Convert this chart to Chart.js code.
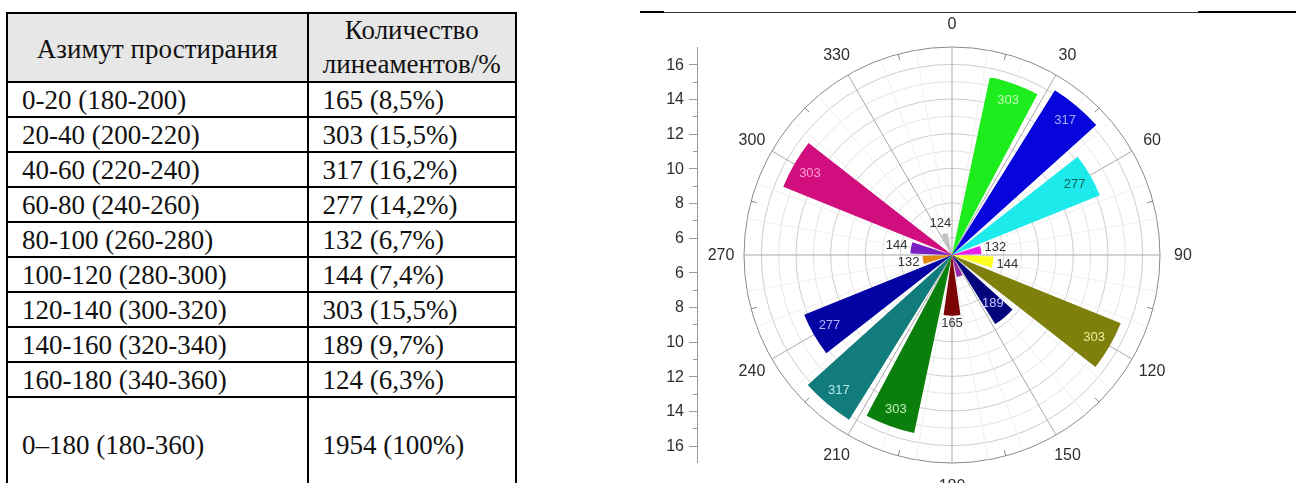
<!DOCTYPE html>
<html lang="ru">
<head>
<meta charset="utf-8">
<title>Азимут простирания линеаментов</title>
<script src="https://cdn.jsdelivr.net/npm/chart.js@4.4.1/dist/chart.umd.min.js"></script>
<style>
  html, body { margin: 0; padding: 0; background: #fff; }
  body { width: 1296px; height: 483px; position: relative; overflow: hidden; }
  #table { position: absolute; left: 0; top: 0; width: 540px; height: 483px;
           font-family: "Liberation Serif", "Times New Roman", serif; color: #111; }
  .cell { position: absolute; box-sizing: border-box; font-size: 27px; white-space: nowrap;
          display: flex; align-items: center; }
  .cell.center { justify-content: center; text-align: center; line-height: 34px; flex-direction: column; }
  .rule { position: absolute; background: #000; }
  .head-bg { position: absolute; background: #e7e7e7; }
  #rose { position: absolute; left: 560px; top: 0; width: 736px; height: 483px; }
  .topline { position: absolute; background: #000; }
</style>
</head>
<body>
<div id="table"></div>
<div id="rose"><canvas id="roseCanvas" width="736" height="483"></canvas></div>
<div class="topline" style="left:640px; top:11px; width:24px; height:2px;"></div>
<div class="topline" style="left:664px; top:12px; width:534px; height:1px; background:#333;"></div>
<div class="topline" style="left:1198px; top:11px; width:98px; height:2px;"></div>

<script>
// ---- data ----
const tableHeaders = ['Азимут простирания', ['Количество', 'линеаментов/%']];
const azimuthBins = ['0-20 (180-200)', '20-40 (200-220)', '40-60 (220-240)', '60-80 (240-260)',
                     '80-100 (260-280)', '100-120 (280-300)', '120-140 (300-320)',
                     '140-160 (320-340)', '160-180 (340-360)'];
const lineamentCounts = [165, 303, 317, 277, 132, 144, 303, 189, 124];
const lineamentShares = [8.5, 15.5, 16.2, 14.2, 6.7, 7.4, 15.5, 9.7, 6.3];
const totalBin = '0–180 (180-360)';
const totalCount = 1954;
const totalShare = 100;

// rose sectors: centre azimuth of every drawn petal (degrees from north, clockwise)
const roseAngles = [20, 40, 60, 80, 100, 120, 140, 160, 180, 200, 220, 240, 260, 280, 300, 340];
const roseColors = ['#1ded1d', '#0505dc', '#1deaea', '#ea1dea', '#ffff1f', '#7f7f0c', '#02027a', '#9a2aa8',
                    '#7d0404', '#0b7f0b', '#127b7b', '#0303a3', '#e08a12', '#7a1fc2', '#d10e7e', '#c2c2c2'];
const roseLabelColors = ['#c4ffbf', '#a9a9ff', '#0e5f5f', '#333333', '#333333', '#eded9c', '#c9c9ff', null,
                         '#333333', '#bff0bf', '#b3e9e9', '#b1b1ff', '#333333', '#333333', '#ff9fd2', '#333333'];
const compassTicks = [0, 30, 60, 90, 120, 150, 180, 210, 240, 270, 300, 330];
const radialTicks = [6, 8, 10, 12, 14, 16];
const R_MIN = 5, R_MAX = 17;

// ---- table ----
(function buildTable() {
  const host = document.getElementById('table');
  const colX = [7, 307.5, 516];
  const rowY = [13, 81.7];
  for (let i = 1; i <= azimuthBins.length; i++) rowY.push(81.7 + 35 * i);
  rowY.push(493);

  const add = (cls, css, html) => {
    const d = document.createElement('div');
    d.className = cls;
    Object.assign(d.style, css);
    if (html !== undefined) d.innerHTML = html;
    host.appendChild(d);
    return d;
  };

  add('head-bg', { left: colX[0] + 'px', top: rowY[0] + 'px', width: (colX[2] - colX[0]) + 'px',
                   height: (rowY[1] - rowY[0]) + 'px' });

  const rows = [];
  azimuthBins.forEach((b, i) => rows.push([b, lineamentCounts[i] + ' (' +
      lineamentShares[i].toFixed(1).replace('.', ',') + '%)']));
  rows.push([totalBin, totalCount + ' (' + totalShare + '%)']);

  // header
  add('cell center', { left: colX[0] + 'px', top: rowY[0] + 'px', width: (colX[1] - colX[0]) + 'px',
                       height: (rowY[1] - rowY[0] + 4) + 'px' }, tableHeaders[0]);
  add('cell center', { left: colX[1] + 'px', top: rowY[0] + 'px', width: (colX[2] - colX[1]) + 'px',
                       height: (rowY[1] - rowY[0]) + 'px' },
      tableHeaders[1].map(t => '<span>' + t + '</span>').join(''));

  rows.forEach((r, i) => {
    const top = rowY[i + 1], h = rowY[i + 2] - rowY[i + 1];
    add('cell', { left: (colX[0] + 15) + 'px', top: top + 'px', height: (h + 2) + 'px' }, r[0]);
    add('cell', { left: (colX[1] + 15) + 'px', top: top + 'px', height: (h + 2) + 'px' }, r[1]);
  });

  // rules
  rowY.slice(0, -1).forEach(y => add('rule', { left: (colX[0] - 1) + 'px', top: (y - 1) + 'px',
                                               width: (colX[2] - colX[0] + 2) + 'px', height: '2px' }));
  colX.forEach(x => add('rule', { left: (x - 1) + 'px', top: (rowY[0] - 1) + 'px', width: '2px',
                                  height: (483 - rowY[0] + 1) + 'px' }));
})();

// ---- rose diagram ----
const PETAL = 16, GAP = 4;   // angular width of a petal and of the gap after it
const sectorValues = [], sectorColors = [], sectorAngles = [], sectorLabels = [];
for (let a = 0; a < 360; a += 20) {
  const k = roseAngles.indexOf(a);
  const bin = (a % 180) / 20;
  sectorValues.push(k >= 0 ? lineamentShares[bin] : null);
  sectorColors.push(k >= 0 ? roseColors[k] : 'rgba(0,0,0,0)');
  sectorAngles.push(PETAL);
  sectorLabels.push(a + '°');
  sectorValues.push(null);
  sectorColors.push('rgba(0,0,0,0)');
  sectorAngles.push(GAP);
  sectorLabels.push('');
}

function polar(cx, cy, r, az) {
  const t = (az - 90) * Math.PI / 180;
  return [cx + r * Math.cos(t), cy + r * Math.sin(t)];
}

const roseDecor = {
  id: 'roseDecor',
  beforeDatasetsDraw(chart) {
    const s = chart.scales.r, ctx = chart.ctx;
    const cx = s.xCenter, cy = s.yCenter, R = s.getDistanceFromCenterForValue(R_MAX);
    ctx.save();
    ctx.lineWidth = 1;
    for (let a = 0; a < 360; a += 10) {
      if (a % 30 === 0) continue;
      const [x, y] = polar(cx, cy, R, a);
      ctx.strokeStyle = '#efefef';
      ctx.beginPath(); ctx.moveTo(cx, cy); ctx.lineTo(x, y); ctx.stroke();
    }
    compassTicks.forEach(a => {
      const [x, y] = polar(cx, cy, R, a);
      ctx.strokeStyle = '#a8a8a8';
      ctx.beginPath(); ctx.moveTo(cx, cy); ctx.lineTo(x, y); ctx.stroke();
    });
    // minor ticks on the rim
    ctx.strokeStyle = '#8a8a8a';
    for (let a = 15; a < 360; a += 30) {
      const [x1, y1] = polar(cx, cy, R, a);
      const [x2, y2] = polar(cx, cy, R - 6, a);
      ctx.beginPath(); ctx.moveTo(x1, y1); ctx.lineTo(x2, y2); ctx.stroke();
    }
    ctx.restore();
  },
  afterDatasetsDraw(chart) {
    const s = chart.scales.r, ctx = chart.ctx;
    const cx = s.xCenter, cy = s.yCenter, R = s.getDistanceFromCenterForValue(R_MAX);
    ctx.save();

    // petal value labels
    ctx.font = '13px "Liberation Sans", Arial, sans-serif';
    ctx.textAlign = 'center';
    ctx.textBaseline = 'middle';
    roseAngles.forEach((a, k) => {
      const color = roseLabelColors[k];
      if (!color) return;
      const bin = (a % 180) / 20;
      const share = lineamentShares[bin];
      const text = String(lineamentCounts[bin]);
      const r = s.getDistanceFromCenterForValue(share);
      const w = ctx.measureText(text).width, h = 10;
      const t = (a - 90) * Math.PI / 180;
      let rl;
      if (share > 9) rl = r - 18;
      else rl = r + 3 + Math.abs(Math.cos(t)) * w / 2 + Math.abs(Math.sin(t)) * h / 2;
      const [x, y] = polar(cx, cy, rl, a);
      ctx.fillStyle = color;
      ctx.fillText(text, x, y);
    });

    // compass labels
    ctx.font = '16px "Liberation Sans", Arial, sans-serif';
    ctx.fillStyle = '#2e2e2e';
    compassTicks.forEach(a => {
      const [x, y] = polar(cx, cy, R + 23, a);
      ctx.fillText(String(a), x, y + 1);
    });

    // vertical radial axis on the left
    const ax = cx - 255;
    ctx.strokeStyle = '#9a9a9a';
    ctx.lineWidth = 1;
    ctx.beginPath();
    ctx.moveTo(ax + 0.5, cy - R); ctx.lineTo(ax + 0.5, cy + R); ctx.stroke();
    for (let v = R_MIN + 1; v < R_MAX; v++) {
      const d = s.getDistanceFromCenterForValue(v);
      const len = radialTicks.includes(v) ? 8 : 4;
      [cy - d, cy + d].forEach(y => {
        ctx.beginPath();
        ctx.moveTo(ax - len, Math.round(y) + 0.5); ctx.lineTo(ax, Math.round(y) + 0.5); ctx.stroke();
      });
    }
    ctx.fillStyle = '#2e2e2e';
    ctx.textAlign = 'right';
    radialTicks.forEach(v => {
      const d = s.getDistanceFromCenterForValue(v);
      ctx.fillText(String(v), ax - 13, cy - d + 1);
      ctx.fillText(String(v), ax - 13, cy + d + 1);
    });
    ctx.restore();
  }
};

new Chart(document.getElementById('roseCanvas'), {
  type: 'polarArea',
  data: {
    labels: sectorLabels,
    datasets: [{
      data: sectorValues.map(v => (v === null ? R_MIN : v)),
      backgroundColor: sectorColors,
      borderWidth: 0,
      angle: c => sectorAngles[c.dataIndex]
    }]
  },
  options: {
    responsive: false,
    animation: false,
    layout: { padding: { left: 184, top: 47, right: 136, bottom: 20 } },
    plugins: { legend: { display: false }, tooltip: { enabled: false } },
    scales: {
      r: {
        min: R_MIN,
        max: R_MAX,
        beginAtZero: false,
        startAngle: -PETAL / 2,
        ticks: { display: false, stepSize: 1 },
        angleLines: { display: false },
        pointLabels: { display: false },
        grid: {
          circular: true,
          lineWidth: 1,
          color: c => c.tick.value === R_MAX ? '#8a8a8a' : (c.tick.value % 2 === 0 ? '#cdcdcd' : '#e4e4e4')
        }
      }
    }
  },
  plugins: [roseDecor]
});
</script>
</body>
</html>
